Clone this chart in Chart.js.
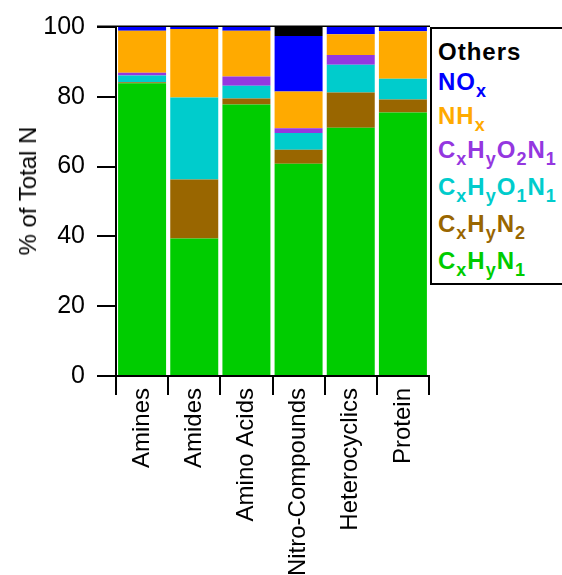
<!DOCTYPE html>
<html>
<head>
<meta charset="utf-8">
<script src="https://cdn.jsdelivr.net/npm/chart.js@4.4.1/dist/chart.umd.min.js"></script>
<style>
  html, body { margin: 0; padding: 0; background: #fff; overflow: hidden; }
  #wrap { position: relative; width: 562px; height: 575px; overflow: hidden; }
  #chart { position: absolute; left: 0; top: 0; }
  .ytitle {
    position: absolute; left: 28px; top: 191px;
    transform: translate(-50%, -50%) rotate(-90deg);
    font: 24px "Liberation Sans", Arial, sans-serif; white-space: nowrap; color: #000;
  }
  .legend {
    position: absolute; left: 430px; top: 27px; width: 200px; height: 254px;
    border: 2px solid #000; background: #fff;
  }
  .row {
    position: absolute; left: 438px; line-height: 24px; white-space: nowrap;
    font: bold 24px "Liberation Sans", Arial, sans-serif; letter-spacing: 1px;
  }
  .row .s { font-size: 18px; position: relative; top: 7px; }
</style>
</head>
<body>
<div id="wrap">
  <canvas id="chart" width="562" height="575"></canvas>
  <div class="ytitle">% of Total N</div>
  <div class="legend"></div>
  <div class="row" style="top:38px;color:#000000">Others</div>
  <div class="row" style="top:68px;color:#0000FF">NO<span class="s">x</span></div>
  <div class="row" style="top:102px;color:#FFAA00">NH<span class="s">x</span></div>
  <div class="row" style="top:136px;color:#9437E0">C<span class="s">x</span>H<span class="s">y</span>O<span class="s">2</span>N<span class="s">1</span></div>
  <div class="row" style="top:173px;color:#00CCCC">C<span class="s">x</span>H<span class="s">y</span>O<span class="s">1</span>N<span class="s">1</span></div>
  <div class="row" style="top:210px;color:#996600">C<span class="s">x</span>H<span class="s">y</span>N<span class="s">2</span></div>
  <div class="row" style="top:247px;color:#00CC00">C<span class="s">x</span>H<span class="s">y</span>N<span class="s">1</span></div>
</div>
<script>
// compound classes along the x axis
const categories = ['Amines', 'Amides', 'Amino Acids', 'Nitro-Compounds', 'Heterocyclics', 'Protein'];

// % of total N per group, stacked bottom to top
const cxhyn1   = [83.9, 39.4, 77.8, 60.8, 71.1, 75.5];
const cxhyn2   = [0.3, 16.9, 1.7, 4.0, 10.1, 3.7];
const cxhyo1n1 = [1.9, 23.5, 3.7, 4.8, 8.0, 6.0];
const cxhyo2n1 = [0.8, 0.0, 2.6, 1.4, 2.8, 0.0];
const nhx      = [12.0, 19.6, 13.1, 10.5, 5.9, 13.6];
const nox      = [1.1, 0.6, 1.1, 15.9, 2.1, 1.2];
const others   = [0.0, 0.0, 0.0, 2.6, 0.0, 0.0];

const yTicks = [0, 20, 40, 60, 80, 100];

const series = [
  ['CxHyN1', cxhyn1, '#00CC00'],
  ['CxHyN2', cxhyn2, '#996600'],
  ['CxHyO1N1', cxhyo1n1, '#00CCCC'],
  ['CxHyO2N1', cxhyo2n1, '#9437E0'],
  ['NHx', nhx, '#FFAA00'],
  ['NOx', nox, '#0000FF'],
  ['Others', others, '#000000']
];

const font = { family: '"Liberation Sans", Arial, sans-serif', size: 24 };

// thin frame line along the top of the plot
const topLine = {
  id: 'topLine',
  afterDraw(chart) {
    const a = chart.chartArea, ctx = chart.ctx;
    ctx.save();
    ctx.strokeStyle = '#000';
    ctx.lineWidth = 1.5;
    ctx.beginPath();
    ctx.moveTo(a.left - 19, a.top - 0.75);
    ctx.lineTo(a.right + 1, a.top - 0.75);
    ctx.stroke();
    ctx.restore();
  }
};

new Chart(document.getElementById('chart'), {
  type: 'bar',
  data: {
    labels: categories,
    datasets: series.map(([label, data, color]) => ({
      label: label,
      data: data,
      backgroundColor: color,
      borderWidth: 0,
      barPercentage: 1,
      categoryPercentage: 0.92
    }))
  },
  options: {
    responsive: false,
    animation: false,
    devicePixelRatio: 1,
    layout: { padding: { left: 0, right: 133, top: 24, bottom: 0 } },
    plugins: { legend: { display: false }, tooltip: { enabled: false } },
    scales: {
      x: {
        stacked: true,
        afterFit: s => { s.height = 199; },
        border: { color: '#000', width: 2 },
        grid: {
          offset: true, drawOnChartArea: false, drawTicks: true,
          tickLength: 19, lineWidth: 2, color: '#000'
        },
        ticks: {
          color: '#000', font: font, minRotation: 90, maxRotation: 90,
          autoSkip: false, padding: -7
        }
      },
      y: {
        stacked: true,
        min: 0,
        max: 100,
        afterFit: s => { s.width = 116; },
        afterBuildTicks: s => { s.ticks = yTicks.map(v => ({ value: v })); },
        border: { color: '#000', width: 2 },
        grid: {
          drawOnChartArea: false, drawTicks: true,
          tickLength: 19, lineWidth: 2, color: '#000'
        },
        ticks: { color: '#000', font: { family: font.family, size: 25 }, padding: 12 }
      }
    }
  },
  plugins: [topLine]
});
</script>
</body>
</html>
